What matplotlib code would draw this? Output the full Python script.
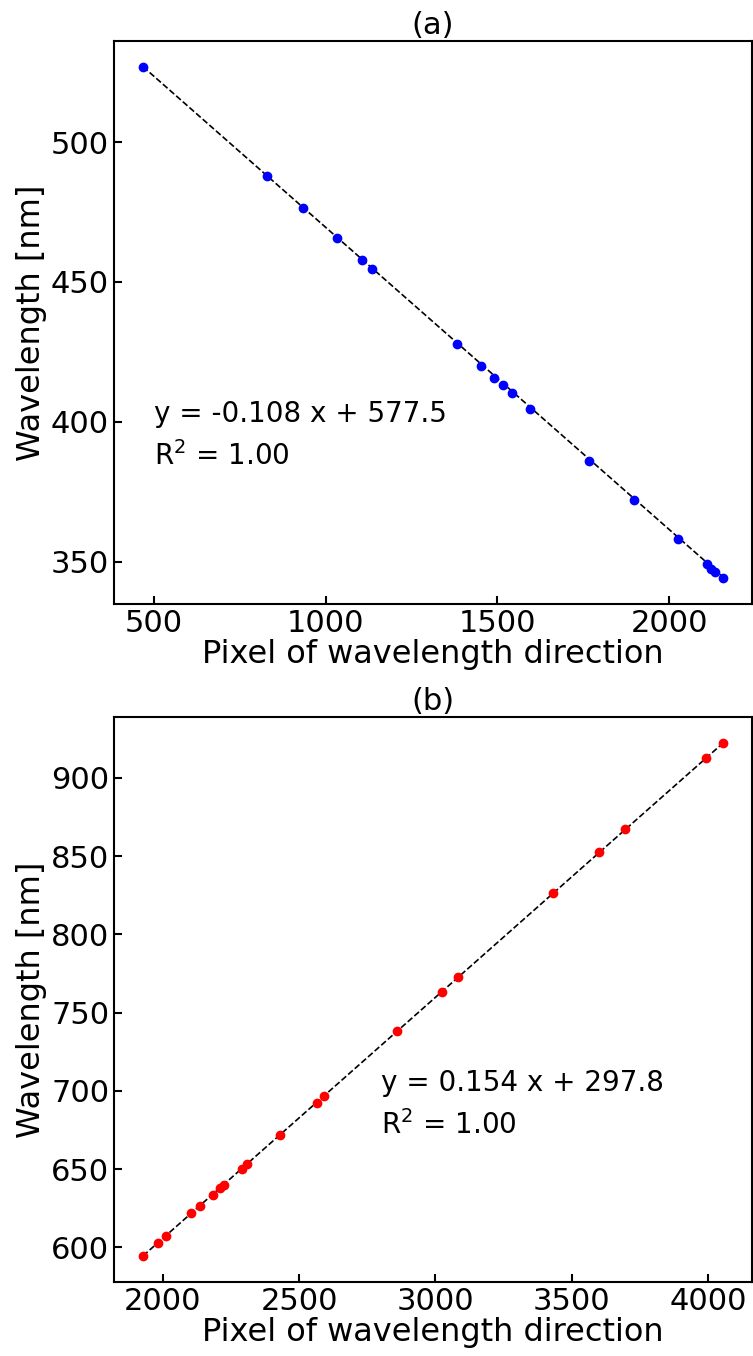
import numpy as np
import matplotlib
matplotlib.use("Agg")
import matplotlib.pyplot as plt
from matplotlib.transforms import offset_copy

# (a) blue channel calibration
pix_a = [468, 828, 935, 1033, 1106, 1136, 1383, 1452, 1491, 1515, 1542, 1596,
         1768, 1897, 2026, 2109, 2123, 2134, 2157]
wl_a = [527.0, 488.0, 476.5, 465.8, 457.9, 454.5, 427.9, 419.9, 415.8, 413.1,
        410.4, 404.4, 385.9, 371.9, 358.1, 349.1, 347.5, 346.4, 344.0]
fit_a = (-0.108, 577.5, 1.00)

# (b) red channel calibration
pix_b = [1927, 1982, 2011, 2104, 2135, 2182, 2211, 2224, 2292, 2308, 2428,
         2565, 2590, 2860, 3024, 3081, 3433, 3599, 3695, 3992, 4055]
wl_b = [594.3, 602.7, 607.0, 621.8, 626.3, 633.4, 638.0, 639.8, 650.4, 653.0,
        671.6, 692.5, 696.6, 738.5, 763.5, 772.6, 826.7, 852.6, 867.3, 912.8, 922.5]
fit_b = (0.154, 297.8, 1.00)

fig = plt.figure(figsize=(7.53, 13.56), dpi=100)
ax1 = fig.add_axes([0.1514, 0.5546, 0.8473, 0.4152])
ax2 = fig.add_axes([0.1514, 0.0546, 0.8473, 0.4166])


def draw(ax, x, y, fit, color, title, txt_pos, yticks, xticks):
    k, b, r2 = fit
    xs = np.array([min(x), max(x)])
    ax.plot(xs, k * xs + b, '--', color='black', lw=1.2, zorder=1)
    ax.plot(x, y, 'o', color=color, ms=6, zorder=2)
    ax.text(txt_pos[0], txt_pos[1], 'y = %.3f x + %.1f' % (k, b), fontsize=20)
    tr = offset_copy(ax.transData, fig=fig, y=-31, units='points')
    ax.text(txt_pos[0], txt_pos[1], 'R$^2$ = %.2f' % r2, fontsize=20,
            transform=tr)
    ax.set_title(title, fontsize=22, pad=5)
    ax.set_xlabel('Pixel of wavelength direction', fontsize=23, labelpad=1)
    ax.set_ylabel('Wavelength [nm]', fontsize=23, labelpad=3)
    ax.set_xticks(xticks)
    ax.set_yticks(yticks)
    ax.tick_params(direction='in', length=6, width=1.5, labelsize=22)
    for s in ax.spines.values():
        s.set_linewidth(1.5)


draw(ax1, pix_a, wl_a, fit_a, 'blue', '(a)', (500, 400),
     [350, 400, 450, 500], [500, 1000, 1500, 2000])
draw(ax2, pix_b, wl_b, fit_b, 'red', '(b)', (2800, 700),
     [600, 650, 700, 750, 800, 850, 900], [2000, 2500, 3000, 3500, 4000])

fig.savefig('out.png', dpi=100)
